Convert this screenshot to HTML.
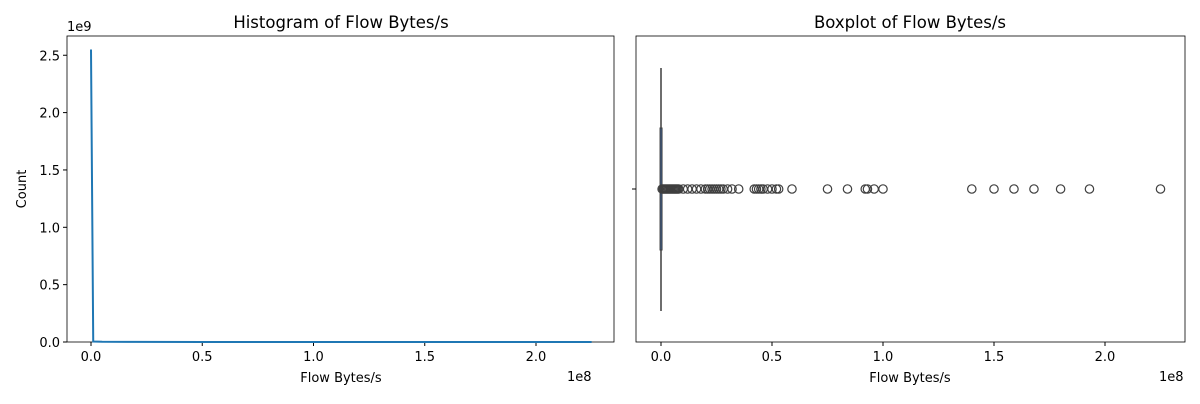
<!DOCTYPE html>
<html><head><meta charset="utf-8"><style>
body{margin:0;background:#fff;font-family:"DejaVu Sans","Liberation Sans",sans-serif}
svg text{font-family:"DejaVu Sans","Liberation Sans",sans-serif;fill:#000}
</style></head><body>
<svg id="c" width="1200" height="400"></svg>
<script>
// Histogram data (x in units of 1e8, counts in units of 1e9)
const histX = [0, 0.01, 0.05, 0.2, 0.5, 1.0, 1.5, 2.0, 2.25];
const histY = [2.55, 0.004, 0.002, 0.001, 0.0005, 0.0003, 0.0002, 0.0002, 0.0001];
const histXTicks = [0, 0.5, 1.0, 1.5, 2.0];
const histXLabels = ["0.0","0.5","1.0","1.5","2.0"];
const histYTicks = [0, 0.5, 1.0, 1.5, 2.0, 2.5];
const histYLabels = ["0.0","0.5","1.0","1.5","2.0","2.5"];
// Boxplot outliers (units of 1e6)
const outliers = [0.5,1,1.5,2,2.5,3,3.5,4,4.5,5,5.5,6,6.5,7,7.5,8,10,12,14,16,18,20,21,22,23,24,25,26,27,28,30,32,35,42,43,44,45,46,48,50,52,53,59,75,84,92,93,96,100,140,150,159,168,180,193,225];
const boxQ = [0, 0.02, 0.05, 0.1, 0.3];

const NS="http://www.w3.org/2000/svg", svg=document.getElementById('c');
function el(t,a,txt){const e=document.createElementNS(NS,t);for(const k in a)e.setAttribute(k,a[k]);if(txt!==undefined)e.textContent=txt;svg.appendChild(e);return e;}

const L={x0:67,x1:614,y0:36,y1:342};
const lx=v=>91+v*222.5, ly=v=>342-v*114.7;
let fr=el('rect',{x:L.x0,y:L.y0,width:L.x1-L.x0,height:L.y1-L.y0,fill:'none',stroke:'#000','stroke-width':0.8});

let t=el('text',{x:341,y:28,'text-anchor':'middle','font-size':16.5},'Histogram of Flow Bytes/s');

t=el('text',{x:341,y:382,'text-anchor':'middle','font-size':13},'Flow Bytes/s');

t=el('text',{x:26,y:189,'text-anchor':'middle','font-size':13,transform:'rotate(-90 26 189)'},'Count');

t=el('text',{x:67,y:31,'font-size':13},'1e9');

t=el('text',{x:567,y:381,'font-size':13},'1e8');

histXTicks.forEach((v,i)=>{const x=lx(v);
 let l=el('line',{x1:x,x2:x,y1:342,y2:346,stroke:'#000'});
 let s=el('text',{x:x,y:361,'text-anchor':'middle','font-size':13},histXLabels[i]);});
histYTicks.forEach((v,i)=>{const y=ly(v);
 let l=el('line',{x1:63,x2:67,y1:y,y2:y,stroke:'#000'});
 let s=el('text',{x:60,y:y+5,'text-anchor':'end','font-size':13},histYLabels[i]);});
let p=el('polyline',{points:histX.map((v,i)=>lx(v)+','+ly(histY[i])).join(' '),fill:'none',stroke:'#1f77b4','stroke-width':2});


const R={x0:636,x1:1185,y0:36,y1:342};
const rx=v=>661+v*2.22;
fr=el('rect',{x:R.x0,y:R.y0,width:R.x1-R.x0,height:R.y1-R.y0,fill:'none',stroke:'#000','stroke-width':0.8});

t=el('text',{x:910,y:28,'text-anchor':'middle','font-size':16.5},'Boxplot of Flow Bytes/s');

t=el('text',{x:910,y:382,'text-anchor':'middle','font-size':13},'Flow Bytes/s');

t=el('text',{x:1159,y:381,'font-size':13},'1e8');

let tk=el('line',{x1:632,x2:636,y1:189,y2:189,stroke:'#000'});
histXTicks.forEach((v,i)=>{const x=rx(v*100);
 let l=el('line',{x1:x,x2:x,y1:342,y2:346,stroke:'#000'});
 let s=el('text',{x:x,y:361,'text-anchor':'middle','font-size':13},histXLabels[i]);});
let w=el('line',{x1:rx(boxQ[0]),x2:rx(boxQ[0]),y1:68,y2:311,stroke:'#3f3f3f','stroke-width':1.5});

let b=el('rect',{x:rx(boxQ[1])-1,y:128,width:Math.max(2,rx(boxQ[3])-rx(boxQ[1])),height:122,fill:'#3f5f8f',stroke:'#3f3f3f'});

outliers.forEach(v=>{let c=el('circle',{cx:rx(v),cy:189,r:4.2,fill:'none',stroke:'#3f3f3f','stroke-width':1.2});
 });
</script>
</body></html>
